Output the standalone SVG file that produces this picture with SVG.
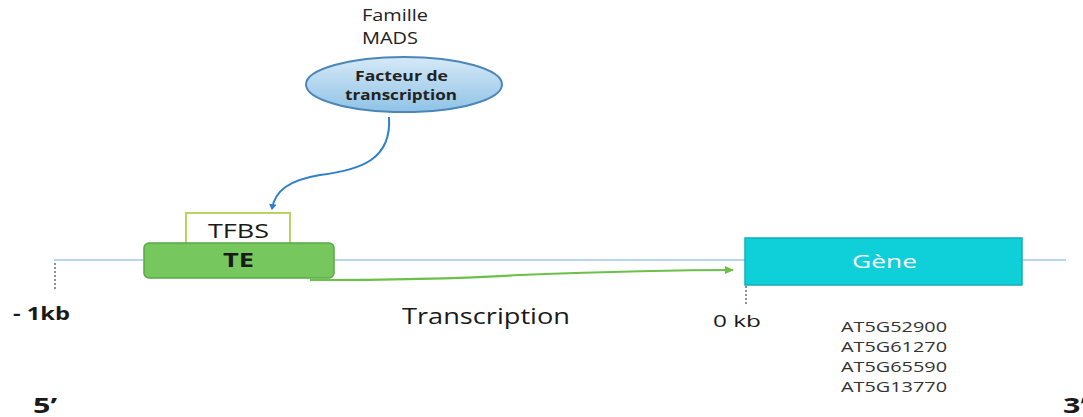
<svg xmlns="http://www.w3.org/2000/svg" width="1083" height="417" viewBox="0 0 1083 417">
  <style>
    text { font-family: "Open Sans", "Liberation Sans", sans-serif; fill: #1a1a1a; }
    .fam { font-size: 16px; fill: #222; }
    .tf { font-size: 14px; font-weight: bold; fill: #222; }
    .gene-id { font-size: 14px; fill: #333; }
    .end { font-size: 21px; font-weight: bold; }
    .dots { stroke: #555; stroke-width: 1.3; stroke-dasharray: 2 2; fill: none; }
  </style>
  <defs>
    <linearGradient id="tfFill" x1="0" y1="0" x2="0" y2="1">
      <stop offset="0" stop-color="#d6e9f7"/>
      <stop offset="1" stop-color="#8fc3e6"/>
    </linearGradient>
    <marker id="blueHead" markerWidth="8" markerHeight="8" refX="5" refY="4" orient="auto" markerUnits="userSpaceOnUse">
      <path d="M0,0 L6,4 L0,8 Z" fill="#2f7fd0"/>
    </marker>
    <marker id="greenHead" markerWidth="10" markerHeight="8" refX="8" refY="4" orient="auto" markerUnits="userSpaceOnUse">
      <path d="M0,0 L9,4 L0,8 Z" fill="#6cc04a"/>
    </marker>
  </defs>

  <!-- DNA strand -->
  <line x1="54" y1="260" x2="1066" y2="260" stroke="#a7c7e6" stroke-width="1.5"/>

  <!-- connectors -->
  <g id="connectors">
    <path d="M389,117 C392,160 360,170 320,175 C290,180 275,190 272,209" fill="none" stroke="#2f7fd0" stroke-width="2" marker-end="url(#blueHead)"/>
    <path d="M310,280 C420,280 470,278 520,275 C600,272 680,270 733,270" fill="none" stroke="#6cc04a" stroke-width="2.2" marker-end="url(#greenHead)"/>
    <line class="dots" x1="55" y1="263" x2="55" y2="289"/>
    <line class="dots" x1="746" y1="286" x2="746" y2="306"/>
  </g>

  <!-- transcription factor -->
  <g id="tf">
    <text class="fam" x="362" y="21" textLength="66" lengthAdjust="spacingAndGlyphs">Famille</text>
    <text class="fam" x="362" y="44" textLength="56" lengthAdjust="spacingAndGlyphs">MADS</text>
    <ellipse cx="404" cy="84.5" rx="98" ry="27.5" fill="url(#tfFill)" stroke="#4a86b8" stroke-width="2"/>
    <text class="tf" x="355" y="81" textLength="93" lengthAdjust="spacingAndGlyphs">Facteur de</text>
    <text class="tf" x="345" y="100" textLength="112" lengthAdjust="spacingAndGlyphs">transcription</text>
  </g>

  <!-- binding site -->
  <g id="tfbs">
    <rect x="186" y="213" width="104" height="31" fill="#fff" stroke="#b8d265" stroke-width="2"/>
    <text x="208" y="238" font-size="20" textLength="61" lengthAdjust="spacingAndGlyphs">TFBS</text>
  </g>

  <!-- transposable element -->
  <g id="te">
    <rect x="144" y="243" width="190" height="35" rx="5" fill="#76c85e" stroke="#5aa847" stroke-width="1.5"/>
    <text x="223" y="267" font-size="20" font-weight="bold" textLength="31" lengthAdjust="spacingAndGlyphs">TE</text>
  </g>

  <!-- gene -->
  <g id="gene">
    <rect x="745" y="238" width="277" height="47" fill="#0fcfd8" stroke="#14aeb8" stroke-width="1.5"/>
    <text x="852" y="268" font-size="19" style="fill:#fff" textLength="65" lengthAdjust="spacingAndGlyphs">Gène</text>
  </g>

  <!-- coordinates and labels -->
  <g id="labels">
    <text x="13" y="320" font-size="17" font-weight="bold" textLength="57" lengthAdjust="spacingAndGlyphs">- 1kb</text>
    <text x="33" y="413" class="end" textLength="24" lengthAdjust="spacingAndGlyphs">5’</text>
    <text x="1063" y="413" class="end" textLength="24" lengthAdjust="spacingAndGlyphs">3’</text>
    <text x="402" y="324" font-size="22" textLength="168" lengthAdjust="spacingAndGlyphs">Transcription</text>
    <text x="713" y="327" font-size="17" textLength="48" lengthAdjust="spacingAndGlyphs">0 kb</text>
    <text class="gene-id" x="841" y="332" textLength="106" lengthAdjust="spacingAndGlyphs">AT5G52900</text>
    <text class="gene-id" x="841" y="352" textLength="106" lengthAdjust="spacingAndGlyphs">AT5G61270</text>
    <text class="gene-id" x="841" y="372" textLength="106" lengthAdjust="spacingAndGlyphs">AT5G65590</text>
    <text class="gene-id" x="841" y="392" textLength="106" lengthAdjust="spacingAndGlyphs">AT5G13770</text>
  </g>
</svg>
